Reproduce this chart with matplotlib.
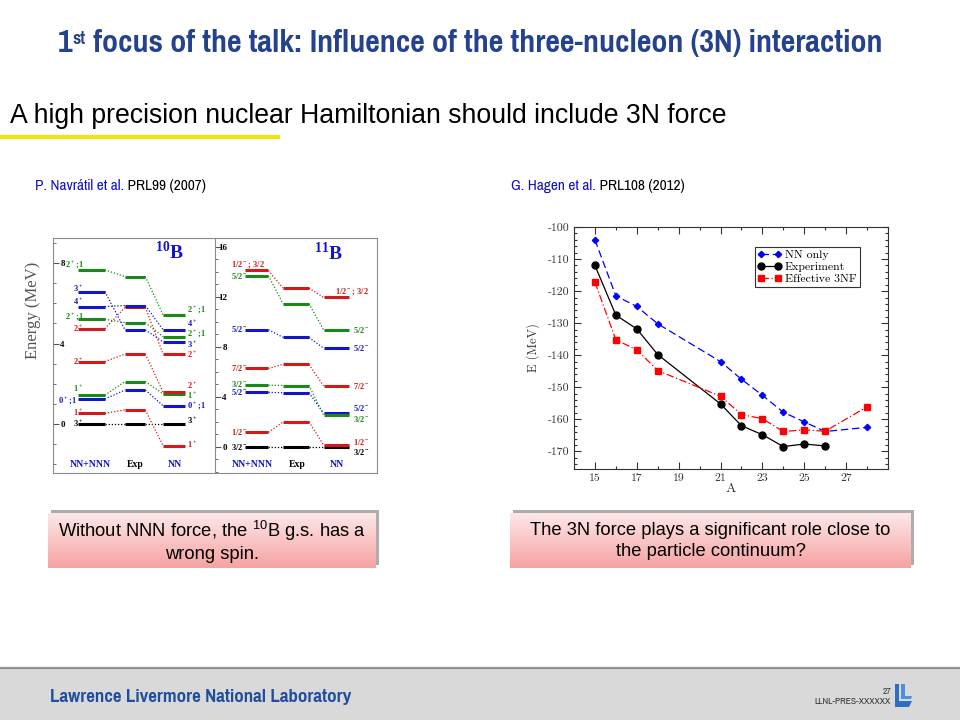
import numpy as np
import matplotlib.pyplot as plt
from matplotlib.patches import Rectangle, Polygon
from matplotlib.ticker import MultipleLocator, FixedLocator

plt.rcParams['mathtext.fontset'] = 'custom'
plt.rcParams['mathtext.rm'] = 'Liberation Sans'
plt.rcParams['mathtext.bf'] = 'Liberation Serif:bold'
plt.rcParams['axes.unicode_minus'] = False

# ground-state energies, Hagen et al. PRL108 (2012)
mass_nn = [15, 16, 17, 18, 21, 22, 23, 24, 25, 26, 28]
e_nn = [-104.0, -121.5, -124.8, -130.2, -142.0, -147.5, -152.5, -157.8, -160.8, -163.8, -162.5]
mass_exp = [15, 16, 17, 18, 21, 22, 23, 24, 25, 26]
e_exp = [-112.0, -127.5, -131.8, -139.8, -155.2, -162.0, -164.8, -168.5, -167.7, -168.3]
mass_3nf = [15, 16, 17, 18, 21, 22, 23, 24, 25, 26, 28]
e_3nf = [-117.2, -135.2, -138.3, -144.8, -152.8, -158.5, -159.8, -163.8, -163.3, -163.7, -156.1]
a_ticks = [15, 17, 19, 21, 23, 25, 27]

# 10B spectrum, Navratil et al. PRL99 (2007): NN+NNN, Exp, NN
b10_labels = ['3$^+$', '1$^+$', '0$^+$;1', '1$^+$', '2$^+$', '2$^+$', '2$^+$;1', '4$^+$', '3$^+$', '2$^+$;1']
b10_colors = ['k', 'r', 'b', 'g', 'r', 'r', 'g', 'b', 'b', 'g']
b10_nnn = [0.0, 0.53, 1.24, 1.43, 3.10, 4.74, 5.21, 5.84, 6.58, 7.66]
b10_exp = [0.0, 0.70, 1.69, 2.11, 3.48, 5.80, 5.04, 5.89, 4.68, 7.33]
b10_nn = [0.0, -1.09, 0.90, 1.50, 1.58, 3.47, 4.34, 4.68, 4.08, 5.42]

# 11B spectrum
b11_labels = ['3/2$^-$', '1/2$^-$', '5/2$^-$', '3/2$^-$', '7/2$^-$', '5/2$^-$', '5/2$^-$', '1/2$^-$; 3/2']
b11_colors = ['k', 'r', 'b', 'g', 'r', 'b', 'g', 'r']
b11_nnn = [0.0, 1.15, 4.35, 4.93, 6.27, 9.36, 13.68, 14.10]
b11_exp = [0.0, 1.99, 4.32, 4.90, 6.59, 8.75, 11.44, 12.69]
b11_nn = [0.0, 0.15, 2.69, 2.56, 4.87, 7.89, 9.36, 11.95]

palette = {'k': 'black', 'r': '#d21a1a', 'g': '#178a17', 'b': '#1414c8'}
navy = '#25428c'
narrow = ['Liberation Sans Narrow', 'Arial Narrow', 'Pragati Narrow', 'Roboto Condensed',
          'Archivo Narrow', 'DejaVu Sans']
sans = ['Liberation Sans', 'Arimo', 'DejaVu Sans']
serif = ['Liberation Serif', 'Tinos', 'DejaVu Serif']
cm = ['cmr10', 'DejaVu Serif']

W, H = 960, 720
fig = plt.figure(figsize=(9.6, 7.2), dpi=100)


def box(x0, y0, x1, y1):
    return [x0 / W, 1 - y1 / H, (x1 - x0) / W, (y1 - y0) / H]


bg = fig.add_axes([0, 0, 1, 1])
bg.axis('off')
bg.set_xlim(0, W)
bg.set_ylim(H, 0)

# title and heading
t1 = bg.text(58, 52, '1', ha='left', va='baseline', fontsize=25, fontweight='bold',
             color=navy, family=narrow)
t2 = bg.annotate('st', xy=(1, 0.93), xycoords=t1, ha='left', va='top', fontsize=14,
                 fontweight='bold', color=navy, family=narrow)
bg.annotate(' focus of the talk: Influence of the three-nucleon (3N) interaction',
            xy=(1, 0), xycoords=(t2, t1), ha='left', va='bottom', fontsize=25,
            fontweight='bold', color=navy, family=narrow)
bg.text(10, 116, 'A high precision nuclear Hamiltonian should include 3N force',
        ha='left', va='center', fontsize=19.2, color='black', family=sans)
bg.plot([0, 280], [136.5, 136.5], color='#f2e20f', lw=3, solid_capstyle='butt')

# references
for x, who, ref in [(35, 'P. Navrátil et al.', ' PRL99 (2007)'), (511, 'G. Hagen et al.', ' PRL108 (2012)')]:
    t = bg.text(x, 186, who, color='#1010c0', fontsize=12, family=narrow, va='center')
    bg.annotate(ref, xy=(1, 0.5), xycoords=t, va='center', ha='left', fontsize=12,
                family=narrow, color='black')

# pink comment boxes
grad = np.linspace(0, 1, 64)[:, None]
top_c = np.array([253, 232, 232]) / 255
bot_c = np.array([246, 162, 162]) / 255
img = top_c + (bot_c - top_c) * grad[..., None]
for (x0, x1), msg in [((48, 376), 'Without NNN force, the $^{10}$B g.s. has a\nwrong spin.'),
                      ((510, 911), 'The 3N force plays a significant role close to\nthe particle continuum?')]:
    bg.add_patch(Rectangle((x0 + 3, 510), x1 - x0, 55, color='#8a8a8a', alpha=0.7, lw=0))
    bg.imshow(img, extent=(x0, x1, 568, 513), aspect='auto', zorder=2)
    bg.text((x0 + x1) / 2, 541, msg, ha='center', va='center', fontsize=13.2,
            family=sans, linespacing=1.25, zorder=3)
bg.set_xlim(0, W)
bg.set_ylim(H, 0)

# footer
bg.add_patch(Rectangle((0, 668), W, 52, color='#d9d9d9', lw=0))
bg.plot([0, W], [668, 668], color='#8a8a8a', lw=1.5)
bg.plot([0, W], [665.5, 665.5], color='#ececec', lw=1)
bg.text(50, 697, 'Lawrence Livermore National Laboratory', fontsize=14.8, fontweight='bold',
        color='#1f4e9c', family=narrow, va='center')
bg.text(891, 692, '27', fontsize=7.5, ha='right', va='center', family=narrow, color='#333333')
bg.text(891, 702, 'LLNL-PRES-XXXXXX', fontsize=7.5, ha='right', va='center', family=narrow,
        color='#333333')
logo = '#2e6ec4'
bg.add_patch(Polygon([(895, 684), (899, 684), (899, 701), (912, 701), (909, 707), (895, 707)],
                     closed=True, color=logo, lw=0))
bg.add_patch(Polygon([(901, 684), (905, 684), (905, 696), (912, 696), (911, 699), (901, 699)],
                     closed=True, color='#4f8fe0', lw=0))


# ---- level schemes
def level_scheme(ax, labels, colors, e_nnn, e_exp, e_nn, cols, lx, l_dy, rx, r_dy, lha):
    for i in range(len(labels)):
        c = palette[colors[i]]
        es = [e_nnn[i], e_exp[i], e_nn[i]]
        for (x0, x1), e in zip(cols, es):
            ax.plot([x0, x1], [e, e], color=c, lw=2.2, solid_capstyle='butt')
        ax.plot([cols[0][1], cols[1][0]], es[:2], color=c, lw=0.9, ls=(0, (1, 1.5)))
        ax.plot([cols[1][1], cols[2][0]], es[1:], color=c, lw=0.9, ls=(0, (1, 1.5)))
        ax.text(lx[i], e_nnn[i] + l_dy[i], labels[i], color=c, ha=lha, va='center',
                fontsize=6, family=serif, fontweight='bold')
        ax.text(rx[i], e_nn[i] + r_dy[i], labels[i], color=c, ha='left', va='center',
                fontsize=6, family=serif, fontweight='bold')
    for x, name, c in [(0.228, 'NN+NNN', '#1414c8'), (0.506, 'Exp', 'black'), (0.75, 'NN', '#1414c8')]:
        ax.text(x, 0.035, name, transform=ax.transAxes, ha='center', va='center',
                color=c, fontsize=7, family=serif, fontweight='bold')
    ax.set_xlim(0, 1)
    ax.set_xticks([])
    ax.yaxis.set_minor_locator(MultipleLocator(1))
    ax.tick_params(axis='y', which='major', direction='in', length=4, pad=-8.5,
                   labelsize=6.5, color='#555555')
    ax.tick_params(axis='y', which='minor', direction='in', length=2.5, color='#555555')
    for lab in ax.get_yticklabels():
        lab.set_fontfamily(serif)
        lab.set_fontweight('bold')
    for s in ax.spines.values():
        s.set_color('#8c8c8c')


ax10 = fig.add_axes(box(53, 238, 215, 473))
ax10.set_ylim(-2.44, 9.25)
ax10.set_yticks([0, 4, 8])
level_scheme(ax10, b10_labels, b10_colors, b10_nnn, b10_exp, b10_nn,
             [(0.155, 0.32), (0.445, 0.57), (0.68, 0.815)],
             [0.19, 0.19, 0.15, 0.19, 0.19, 0.19, 0.19, 0.19, 0.19, 0.19],
             [0.07, 0.08, -0.05, 0.39, 0.08, 0.05, 0.16, 0.28, 0.22, 0.28],
             [0.83] * 10,
             [0.2, 0.13, 0.03, -0.05, 0.38, 0.03, 0.18, 0.38, -0.08, 0.3], 'right')
ax10.text(0.72, 8.55, r'$^{\mathbf{10}}$B', color='#1414c8', fontsize=14, ha='center',
          va='center', family=serif, fontweight='bold')

ax11 = fig.add_axes(box(215, 238, 377, 473))
ax11.set_ylim(-2.1, 16.7)
ax11.set_yticks([0, 4, 8, 12, 16])
level_scheme(ax11, b11_labels, b11_colors, b11_nnn, b11_exp, b11_nn,
             [(0.185, 0.33), (0.42, 0.58), (0.67, 0.83)],
             [0.1] * 8,
             [0.0, 0.05, 0.0, 0.1, 0.0, 0.05, 0.0, 0.5],
             [0.85, 0.85, 0.85, 0.85, 0.85, 0.85, 0.85, 0.74],
             [-0.4, 0.25, 0.4, -0.3, 0.0, 0.0, 0.0, 0.5], 'left')
ax11.text(0.7, 15.5, r'$^{\mathbf{11}}$B', color='#1414c8', fontsize=14, ha='center',
          va='center', family=serif, fontweight='bold')

bg.text(33, 310, 'Energy (MeV)', rotation=90, ha='center', va='center', fontsize=12,
        color='#555555', family=serif)

# ---- oxygen chain chart
ax = fig.add_axes(box(574, 227, 888, 469))
ax.plot(mass_nn, e_nn, color='#0000ff', ls=(0, (6, 3)), lw=0.9, marker='D', ms=3.2, label='NN only')
ax.plot(mass_exp, e_exp, color='black', ls='-', lw=0.9, marker='o', ms=5, label='Experiment')
ax.plot(mass_3nf, e_3nf, color='#ff0000', ls=(0, (6, 2, 1, 2)), lw=0.9, marker='s', ms=5,
        label='Effective 3NF')
ax.set_xlim(14, 29)
ax.set_ylim(-175.5, -100)
ax.xaxis.set_major_locator(FixedLocator(a_ticks))
ax.xaxis.set_minor_locator(MultipleLocator(1))
ax.yaxis.set_major_locator(MultipleLocator(10))
ax.yaxis.set_minor_locator(MultipleLocator(2))
ax.tick_params(which='both', direction='in', top=True, right=True, color='#333333', width=0.8)
ax.tick_params(which='major', length=5, labelsize=8.5, labelcolor='#333333')
ax.tick_params(which='minor', length=2.5)
for lab in ax.get_xticklabels() + ax.get_yticklabels():
    lab.set_fontfamily(cm)
for s in ax.spines.values():
    s.set_color('#333333')
ax.set_xlabel('A', fontsize=10, family=cm, color='#333333', labelpad=0)
ax.set_ylabel('E (MeV)', fontsize=9, family=cm, color='#333333', labelpad=5)
leg = ax.legend(loc='upper left', bbox_to_anchor=(0.576, 0.917), fancybox=False,
                edgecolor='#333333', framealpha=1, prop={'family': cm, 'size': 8.5},
                handlelength=2.0, numpoints=2, borderpad=0.25, labelspacing=0.15,
                handletextpad=0.3, borderaxespad=0)
leg.get_frame().set_linewidth(0.8)

fig.savefig('out.png', dpi=100)
